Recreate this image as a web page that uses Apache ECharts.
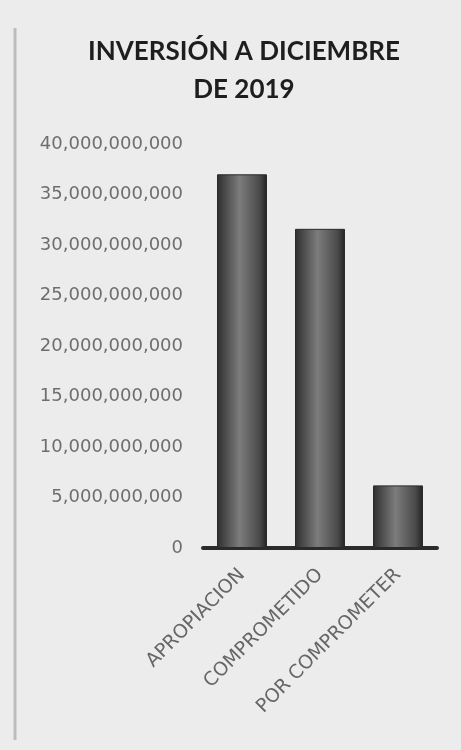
<!DOCTYPE html>
<html>
<head>
<meta charset="utf-8">
<script src="https://cdn.jsdelivr.net/npm/echarts@6/dist/echarts.min.js"></script>
<style>
html,body{margin:0;padding:0;background:#ececec;}
#chart{width:461px;height:750px;}
</style>
</head>
<body>
<div id="chart"></div>
<script>
const titleLines = ["INVERSIÓN A DICIEMBRE", "DE 2019"];
const categories = ["APROPIACION", "COMPROMETIDO", "POR COMPROMETER"];
const values = [37000000000, 31600000000, 6200000000];
const yTicks = [0, 5000000000, 10000000000, 15000000000, 20000000000, 25000000000, 30000000000, 35000000000, 40000000000];

const chart = echarts.init(document.getElementById('chart'), null, {renderer: 'canvas'});
const barGrad = new echarts.graphic.LinearGradient(0, 0, 1, 0, [
  {offset: 0, color: '#2e2e2e'},
  {offset: 0.45, color: '#7c7c7c'},
  {offset: 0.85, color: '#4a4a4a'},
  {offset: 1, color: '#222222'}
]);
chart.setOption({
  backgroundColor: '#ececec',
  animation: false,
  title: {
    text: titleLines.join('\n'),
    left: 239,
    textAlign: 'center',
    top: 28,
    textStyle: {fontFamily: 'Lato', fontWeight: 'bold', fontSize: 26, color: '#1e1e1e', lineHeight: 38}
  },
  grid: {left: 203, right: 24, top: 144, bottom: 202, containLabel: false},
  xAxis: {
    type: 'category',
    data: categories,
    axisLine: {show: true, lineStyle: {color: '#2b2b2b', width: 4}},
    axisTick: {show: false},
    axisLabel: {
      rotate: 45, interval: 0, margin: 24,
      fontFamily: 'DejaVu Sans', fontSize: 19, color: '#666666'
    }
  },
  yAxis: {
    type: 'value',
    min: yTicks[0],
    max: yTicks[yTicks.length - 1],
    interval: yTicks[1] - yTicks[0],
    axisLine: {show: false},
    axisTick: {show: false},
    splitLine: {show: false},
    axisLabel: {
      margin: 20,
      fontFamily: 'DejaVu Sans', fontSize: 18, color: '#6e6e6e',
      formatter: v => v.toLocaleString('en-US')
    }
  },
  series: [{
    type: 'bar',
    data: values,
    barWidth: 50,
    itemStyle: {color: barGrad, borderColor: '#2a2a2a', borderWidth: 1}
  }],
  graphic: [
    {type: 'line', shape: {x1: 15, y1: 28, x2: 15, y2: 740}, style: {stroke: '#bdbdbd', lineWidth: 3}, silent: true}
  ]
});
</script>
</body>
</html>
